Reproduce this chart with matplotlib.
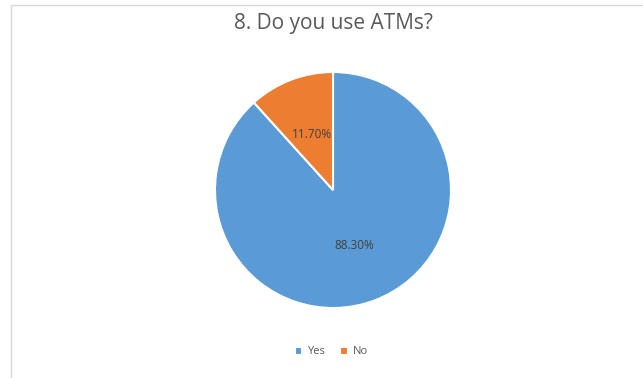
import matplotlib.pyplot as plt
from matplotlib.patches import Rectangle

plt.rcParams['font.family'] = ['Open Sans', 'DejaVu Sans']

labels = ['Yes', 'No']
shares = [88.30, 11.70]
colors = ['#5B9BD5', '#ED7D31']

W, H = 643, 378
fig = plt.figure(figsize=(W / 100, H / 100), dpi=100)
fig.patch.set_facecolor('white')

# chart area frame (left and top edges visible)
fig.patches.append(Rectangle((11 / W, -0.1), 1.2, (H - 5) / H + 0.1,
                             transform=fig.transFigure, fill=False,
                             edgecolor='#D9D9D9', linewidth=1.0))

cx, cy, r = 333, 190, 118
ax = fig.add_axes([(cx - r) / W, (H - cy - r) / H, 2 * r / W, 2 * r / H])
wedges, _, autotexts = ax.pie(shares, colors=colors, startangle=90, counterclock=False,
                              autopct=lambda p: f'{p:.2f}%', pctdistance=0.5,
                              wedgeprops=dict(edgecolor='white', linewidth=1.5),
                              textprops=dict(fontsize=8.5, color='#404040'))
ax.set_xlim(-1, 1)
ax.set_ylim(-1, 1)
ax.set_aspect('equal')

fig.text(cx / W, 1 - 23 / H, '8. Do you use ATMs?', ha='center', va='center',
         fontsize=15, color='#595959')

fig.legend(wedges, labels, loc='center', bbox_to_anchor=(331 / W, 1 - 352 / H),
           ncol=2, frameon=False, fontsize=8, labelcolor='#595959',
           handlelength=0.7, handleheight=0.7, handletextpad=0.4, columnspacing=1.4)

fig.savefig('out.png', dpi=100)
